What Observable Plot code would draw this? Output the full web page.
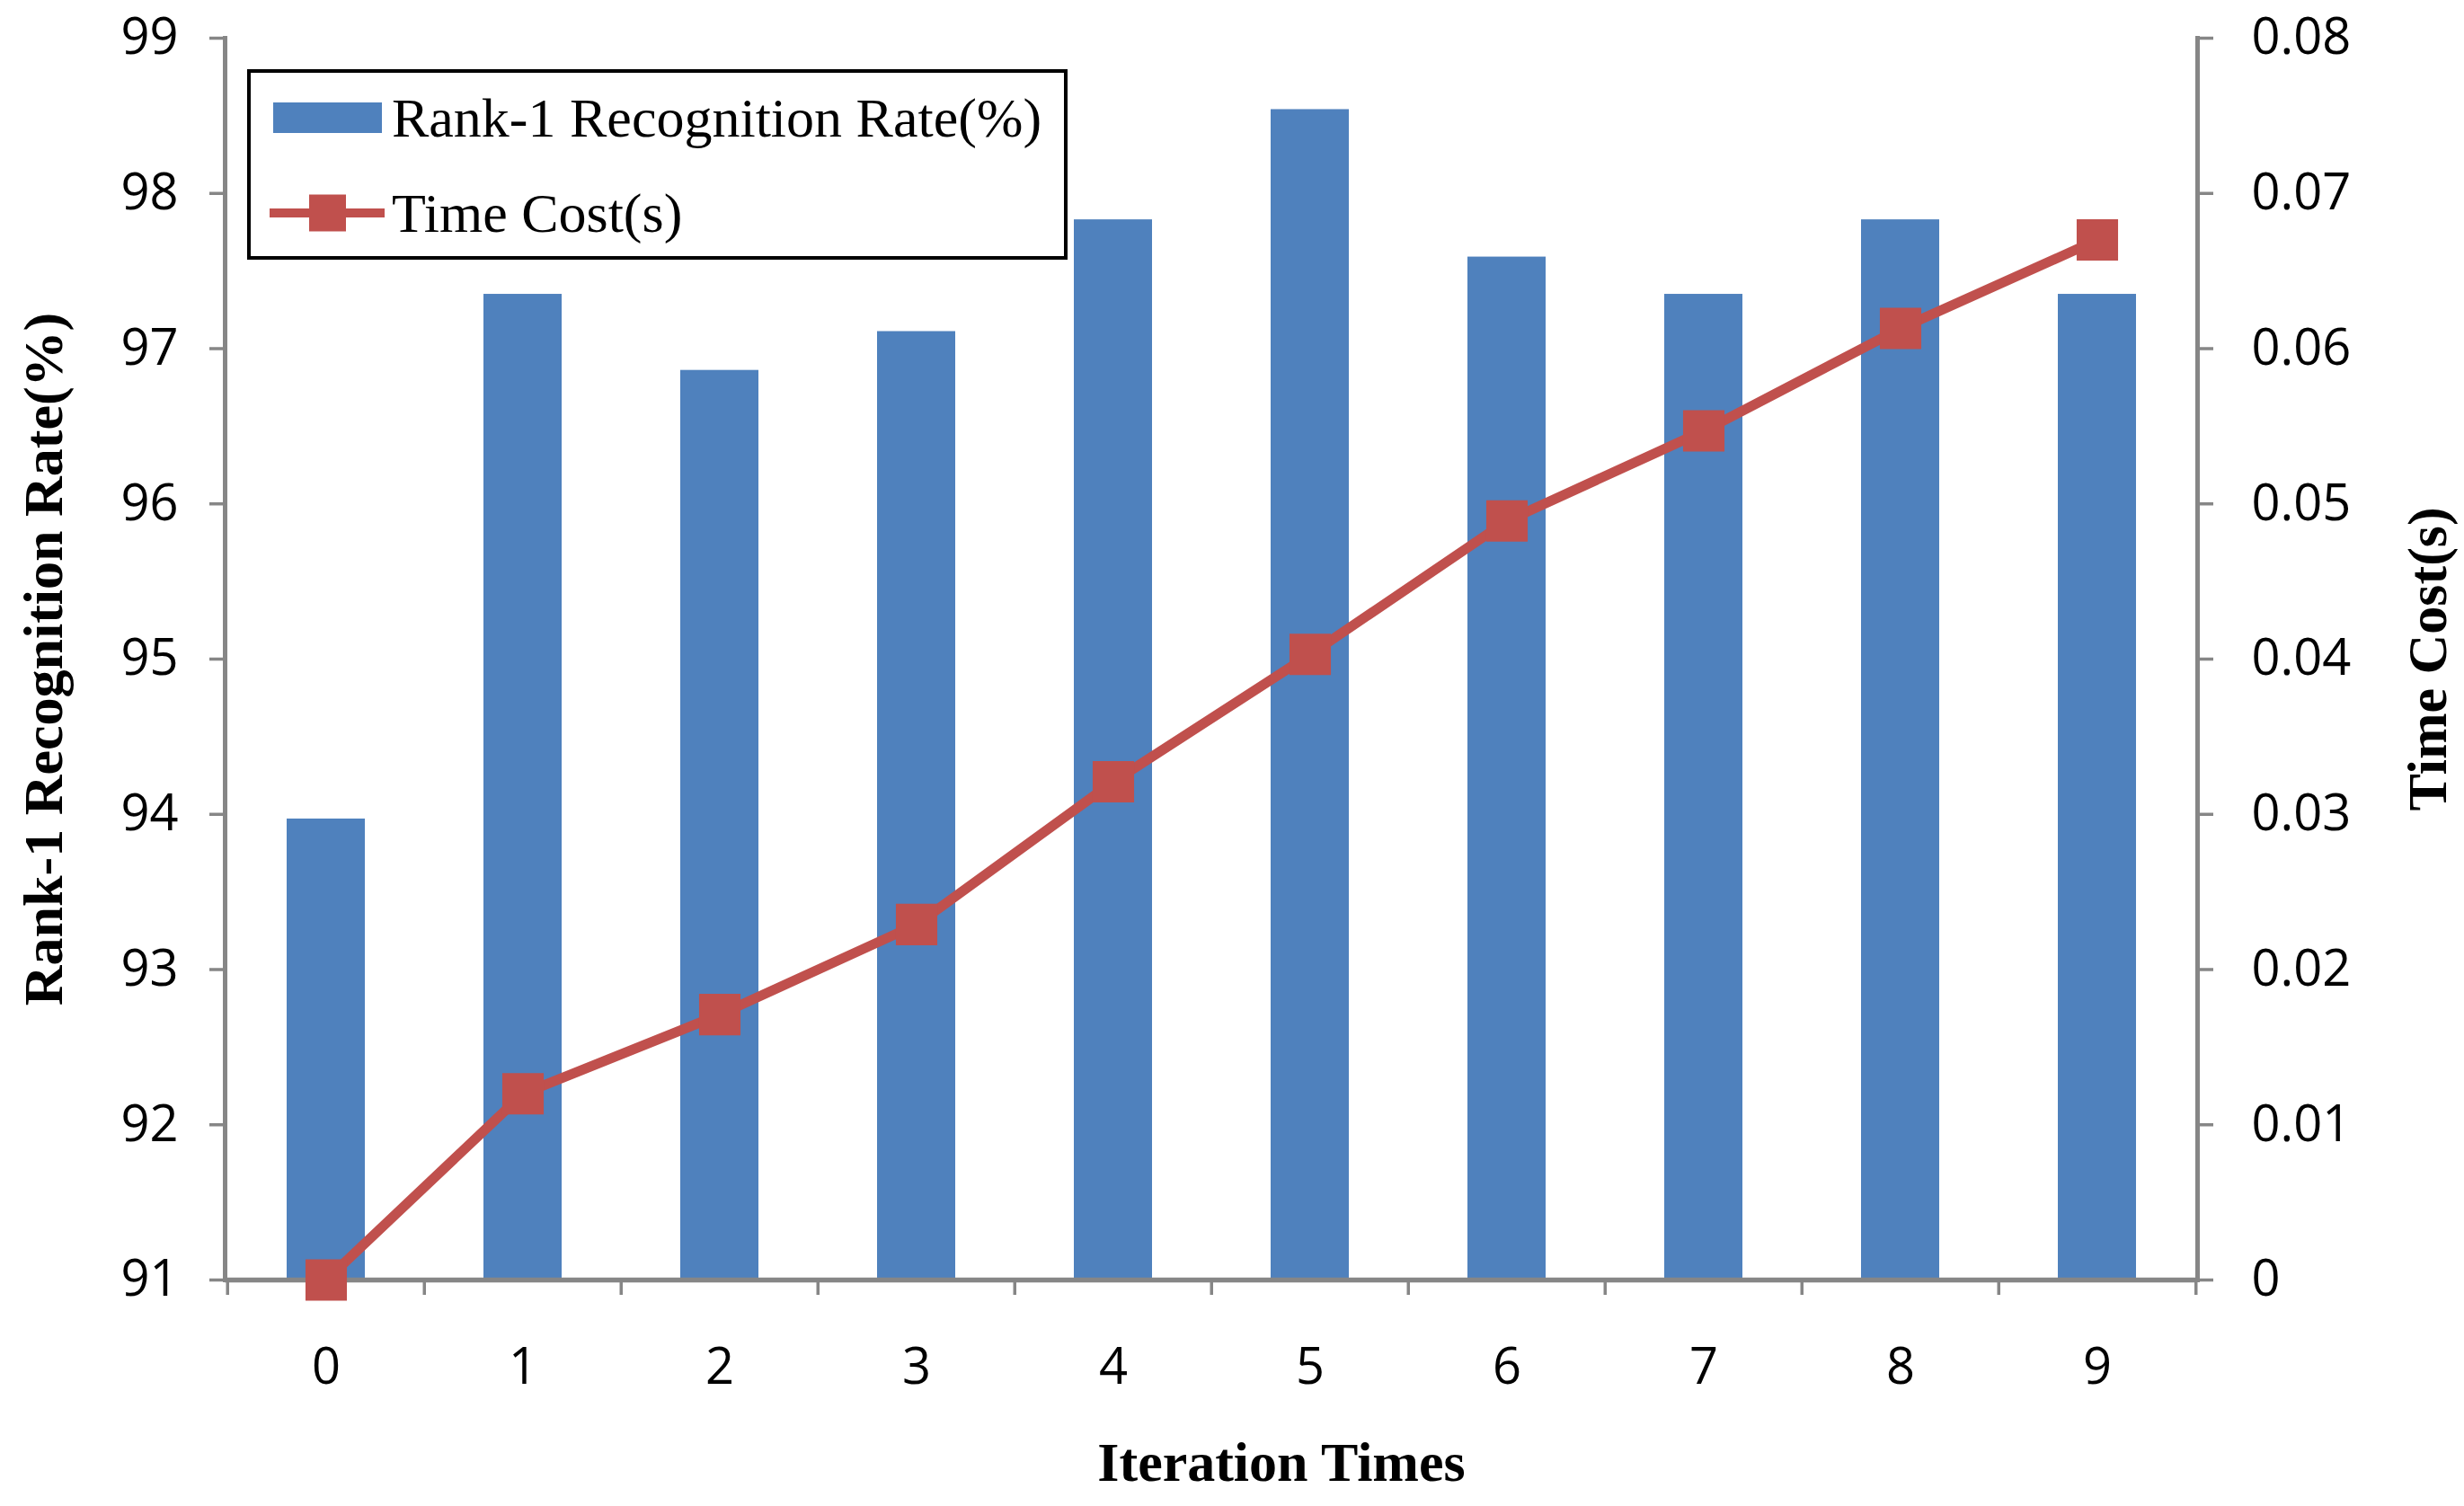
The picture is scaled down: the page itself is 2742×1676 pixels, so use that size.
<!DOCTYPE html>
<html><head><meta charset="utf-8">
<script src="https://cdn.jsdelivr.net/npm/d3@7"></script>
<script src="https://cdn.jsdelivr.net/npm/@observablehq/plot@0.6"></script>
<style>
html,body{margin:0;padding:0;background:#fff;}
#wrap{position:relative;width:2742px;height:1676px;}
#legend{position:absolute;left:275px;top:77px;width:913px;height:212px;box-sizing:border-box;border:4px solid #000;background:#fff;}
#legend svg{display:block;}
</style></head>
<body><div id="wrap"></div>
<script>
// ---- data ----
const iterations = [0, 1, 2, 3, 4, 5, 6, 7, 8, 9];
const rankRate = [93.97, 97.35, 96.86, 97.11, 97.83, 98.54, 97.59, 97.35, 97.83, 97.35];
const timeCost = [0, 0.0120, 0.0171, 0.0229, 0.0321, 0.0403, 0.0489, 0.0547, 0.0613, 0.0670];
const rateTicks = [91, 92, 93, 94, 95, 96, 97, 98, 99];
const timeTicks = [0, 0.01, 0.02, 0.03, 0.04, 0.05, 0.06, 0.07, 0.08];
const timeLabels = ["0", "0.01", "0.02", "0.03", "0.04", "0.05", "0.06", "0.07", "0.08"];
const rateDomain = [91, 99];
const timeDomain = [0, 0.08];
const seriesNames = ["Rank-1 Recognition Rate(%)", "Time Cost(s)"];
const yTitle = "Rank-1 Recognition Rate(%)";
const y2Title = "Time Cost(s)";
const xTitle = "Iteration Times";

// ---- style ----
const barColor = "#4F81BD";
const lineColor = "#C0504D";
const axisGray = "#868686";
const W = 2742, H = 1676, mL = 250, mR = 297, mT = 42, mB = 252;
const padIn = 0.605, padOut = padIn / 2;
const step = (W - mL - mR) / (iterations.length - padIn + 2 * padOut);
const serif = '"Liberation Serif", "Times New Roman", serif';

const data = iterations.map((it, i) => ({it, rate: rankRate[i], time: timeCost[i]}));
const toY = t => rateDomain[0] + (t - timeDomain[0]) * (rateDomain[1] - rateDomain[0]) / (timeDomain[1] - timeDomain[0]);

const chart = Plot.plot({
  width: W, height: H,
  marginLeft: mL, marginRight: mR, marginTop: mT, marginBottom: mB,
  style: {fontFamily: '"Open Sans", sans-serif', fontSize: "56px", color: "#000", background: "#fff"},
  x: {type: "band", domain: iterations, paddingInner: padIn, paddingOuter: padOut},
  y: {domain: rateDomain},
  marks: [
    Plot.barY(data, {x: "it", y1: rateDomain[0], y2: "rate", fill: barColor}),
    Plot.axisY({anchor: "left", ticks: rateTicks, tickSize: 17, tickPadding: 35, stroke: axisGray, strokeWidth: 3.5, fill: "#000", label: null}),
    Plot.axisY({anchor: "right", ticks: timeTicks.map(toY), tickSize: 17, tickPadding: 43, stroke: axisGray, strokeWidth: 3.5, fill: "#000", label: null,
      tickFormat: d => timeLabels[timeTicks.findIndex(t => Math.abs(toY(t) - d) < 1e-9)]}),
    Plot.axisX({ticks: iterations, tickSize: 0, tickPadding: 76, fill: "#000", label: null}),
    Plot.axisX({ticks: iterations, tickSize: 17, tickFormat: () => "", dx: -step / 2, stroke: axisGray, strokeWidth: 3.5, label: null}),
    Plot.axisX({ticks: [iterations[iterations.length - 1]], tickSize: 17, tickFormat: () => "", dx: step / 2, stroke: axisGray, strokeWidth: 3.5, label: null}),
    Plot.frame({anchor: "left", stroke: axisGray, strokeWidth: 5}),
    Plot.frame({anchor: "right", stroke: axisGray, strokeWidth: 5}),
    Plot.ruleY([rateDomain[0]], {stroke: axisGray, strokeWidth: 5.5}),
    Plot.line(data, {x: "it", y: d => toY(d.time), stroke: lineColor, strokeWidth: 11}),
    Plot.dot(data, {x: "it", y: d => toY(d.time), symbol: "square", r: 26, fill: lineColor, stroke: "none"}),
    Plot.text([yTitle], {frameAnchor: "left", text: d => d, rotate: -90, dx: -201, textAnchor: "middle", lineAnchor: "middle", fontFamily: serif, fontWeight: "bold", fontSize: 62, fill: "#000"}),
    Plot.text([y2Title], {frameAnchor: "right", text: d => d, rotate: -90, dx: 257, textAnchor: "middle", lineAnchor: "middle", fontFamily: serif, fontWeight: "bold", fontSize: 62, fill: "#000"}),
    Plot.text([xTitle], {frameAnchor: "bottom", text: d => d, dx: 78, dy: 204, textAnchor: "middle", lineAnchor: "middle", fontFamily: serif, fontWeight: "bold", fontSize: 62, fill: "#000"})
  ]
});

const wrap = document.getElementById("wrap");
wrap.appendChild(chart);

// ---- legend (HTML overlay) ----
const legend = document.createElement("div");
legend.id = "legend";
const ns = "http://www.w3.org/2000/svg";
const lsvg = document.createElementNS(ns, "svg");
lsvg.setAttribute("width", 905); lsvg.setAttribute("height", 204);
function el(tag, attrs, parent) { const e = document.createElementNS(ns, tag); for (const k in attrs) e.setAttribute(k, attrs[k]); parent.appendChild(e); return e; }
el("rect", {x: 25, y: 33, width: 121, height: 34, fill: barColor}, lsvg);
el("line", {x1: 21, x2: 149, y1: 156, y2: 156, stroke: lineColor, "stroke-width": 10}, lsvg);
el("rect", {x: 65, y: 135.5, width: 41, height: 41, fill: lineColor}, lsvg);
[[50, seriesNames[0]], [156, seriesNames[1]]].forEach(([y, t]) => {
  const tx = el("text", {x: 157, y: y, "dominant-baseline": "central", "font-family": serif, "font-size": 62, fill: "#000"}, lsvg);
  tx.textContent = t;
});
legend.appendChild(lsvg);
wrap.appendChild(legend);
</script>
</body></html>
